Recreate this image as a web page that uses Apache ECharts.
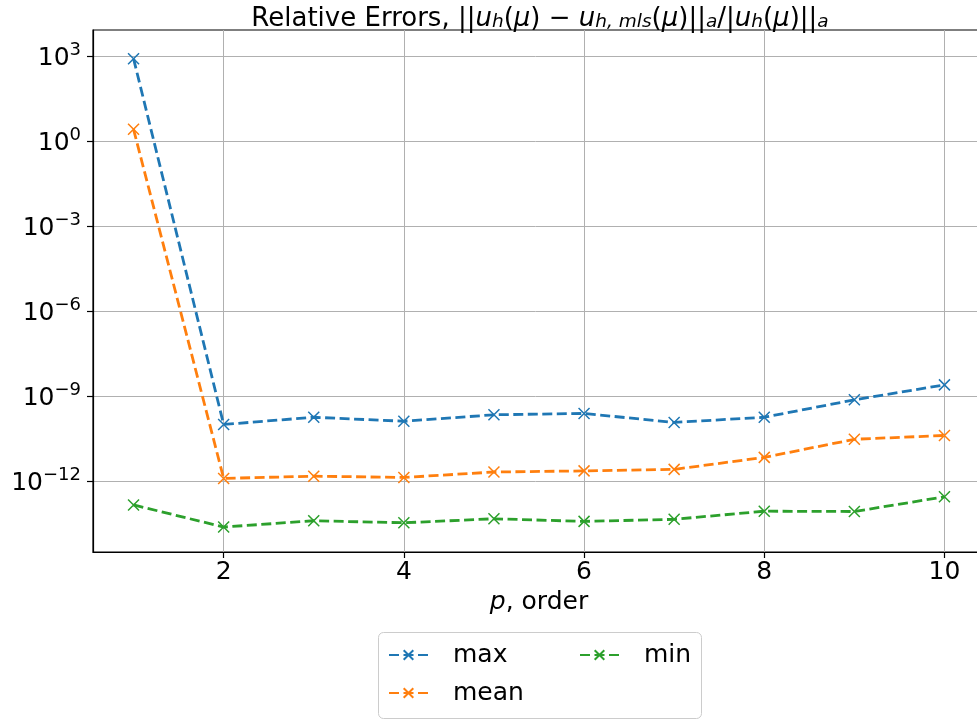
<!DOCTYPE html>
<html>
<head>
<meta charset="utf-8">
<script src="https://cdn.jsdelivr.net/npm/echarts@6/dist/echarts.min.js"></script>
<style>
  html, body { margin: 0; padding: 0; background: #fff; }
  #chart { width: 977px; height: 720px; }
</style>
</head>
<body>
<div id="chart"></div>
<script>
// Polynomial order p and relative error statistics
const orders = [1, 2, 3, 4, 5, 6, 7, 8, 9, 10];
const maxErr  = [8.1e2, 1.0e-10, 1.8e-10, 1.3e-10, 2.2e-10, 2.45e-10, 1.18e-10, 1.8e-10, 7.4e-10, 2.5e-9];
const meanErr = [2.6, 1.25e-12, 1.5e-12, 1.35e-12, 2.1e-12, 2.3e-12, 2.6e-12, 6.9e-12, 3.0e-11, 4.1e-11];
const minErr  = [1.45e-13, 2.4e-14, 4.0e-14, 3.4e-14, 4.7e-14, 3.8e-14, 4.5e-14, 8.7e-14, 8.5e-14, 2.8e-13];

const xTicks = [2, 4, 6, 8, 10];
const yTicks = [1e-12, 1e-9, 1e-6, 1e-3, 1, 1e3];

const colors = { max: '#1f77b4', mean: '#ff7f0e', min: '#2ca02c' };
const FONT = 'DejaVu Sans';
const FS = 25;
const CROSS = 'path://M0,0L10,10M10,0L0,10';

function pairs(vals) { return orders.map((p, i) => [p, vals[i]]); }

function makeSeries(name, vals) {
  return {
    name: name,
    type: 'line',
    data: pairs(vals),
    symbol: CROSS,
    symbolSize: 11,
    showAllSymbol: true,
    lineStyle: { color: colors[name], width: 2.8, type: [10, 4.5] },
    itemStyle: { color: colors[name], borderColor: colors[name], borderWidth: 1.5 },
    emphasis: { disabled: true },
    animation: false,
    z: 3
  };
}

function expLabel(v) {
  const e = Math.round(Math.log10(v));
  const s = e < 0 ? '\u2212' + (-e) : String(e);
  return '{b|10}{s|' + s + '}';
}

const chart = echarts.init(document.getElementById('chart'), null, { renderer: 'canvas' });

const titleRich = {
  n:  { fontFamily: FONT, fontSize: 26, color: '#000', lineHeight: 34, verticalAlign: 'bottom' },
  i:  { fontFamily: FONT, fontSize: 26, fontStyle: 'italic', color: '#000', lineHeight: 34, verticalAlign: 'bottom' },
  sb: { fontFamily: FONT, fontSize: 18.5, fontStyle: 'italic', color: '#000', lineHeight: 12, verticalAlign: 'bottom' }
};

const legendText = { fontFamily: FONT, fontSize: FS, color: '#000', lineHeight: 30, padding: [0, 0, 0, 20] };

const option = {
  backgroundColor: '#fff',
  animation: false,
  color: [colors.max, colors.mean, colors.min],
  grid: {
    left: 93, top: 30, width: 892, height: 522,
    show: true, borderColor: '#000', borderWidth: 1.2, backgroundColor: 'transparent',
    containLabel: false, outerBoundsMode: 'none'
  },
  graphic: [
    {
      type: 'text',
      x: 540, y: 15,
      style: {
        align: 'center',
        verticalAlign: 'middle',
        text: '{n|Relative Errors, ||}{i|u}{sb|h}{n|(}{i|\u03bc}{n|) \u2212 }{i|u}{sb|h, mls}{n|(}{i|\u03bc}{n|)||}{sb|a}{n|/|}{i|u}{sb|h}{n|(}{i|\u03bc}{n|)||}{sb|a}',
        rich: titleRich
      },
      z: 10
    },
    {
      type: 'rect',
      shape: { x: 378.5, y: 632.5, width: 323, height: 86, r: 5 },
      style: { fill: 'rgba(255,255,255,0.8)', stroke: '#cccccc', lineWidth: 1 },
      z: 5
    }
  ],
  legend: [
    {
      data: ['max', 'mean'],
      orient: 'vertical',
      left: 388, top: 640,
      padding: 0,
      itemGap: 8,
      itemWidth: 39,
      itemHeight: 12,
      textStyle: legendText,
      selectedMode: false,
      z: 6
    },
    {
      data: ['min'],
      orient: 'vertical',
      left: 579, top: 640,
      padding: 0,
      itemGap: 8,
      itemWidth: 39,
      itemHeight: 12,
      textStyle: legendText,
      selectedMode: false,
      z: 6
    }
  ],
  xAxis: {
    type: 'value',
    min: 0.55, max: 10.45,
    name: '{i|p}{n|, order}',
    nameLocation: 'middle',
    nameGap: 38,
    nameTextStyle: {
      rich: {
        i: { fontFamily: FONT, fontSize: FS, fontStyle: 'italic', color: '#000' },
        n: { fontFamily: FONT, fontSize: FS, color: '#000' }
      }
    },
    axisLine: { show: true, lineStyle: { color: '#000', width: 1.2 } },
    axisTick: { show: true, inside: false, length: 6, customValues: xTicks, lineStyle: { color: '#000', width: 1.2 } },
    axisLabel: { customValues: xTicks, fontFamily: FONT, fontSize: FS, color: '#000', margin: 8 },
    splitLine: { show: true, lineStyle: { color: '#b0b0b0', width: 1 } }
  },
  yAxis: {
    type: 'log',
    logBase: 10,
    min: Math.pow(10, -14.5),
    max: Math.pow(10, 3.92),
    axisLine: { show: true, lineStyle: { color: '#000', width: 1.2 } },
    axisTick: { show: true, inside: false, length: 6, customValues: yTicks, lineStyle: { color: '#000', width: 1.2 } },
    axisLabel: {
      customValues: yTicks,
      margin: 12,
      formatter: expLabel,
      rich: {
        b: { fontFamily: FONT, fontSize: FS, color: '#000', lineHeight: 30, verticalAlign: 'bottom' },
        s: { fontFamily: FONT, fontSize: 18, color: '#000', lineHeight: 20, verticalAlign: 'top' }
      }
    },
    splitLine: { show: true, lineStyle: { color: '#b0b0b0', width: 1 } },
    minorTick: { show: false },
    minorSplitLine: { show: false }
  },
  series: [
    makeSeries('max', maxErr),
    makeSeries('mean', meanErr),
    makeSeries('min', minErr)
  ]
};

chart.setOption(option);
</script>
</body>
</html>
